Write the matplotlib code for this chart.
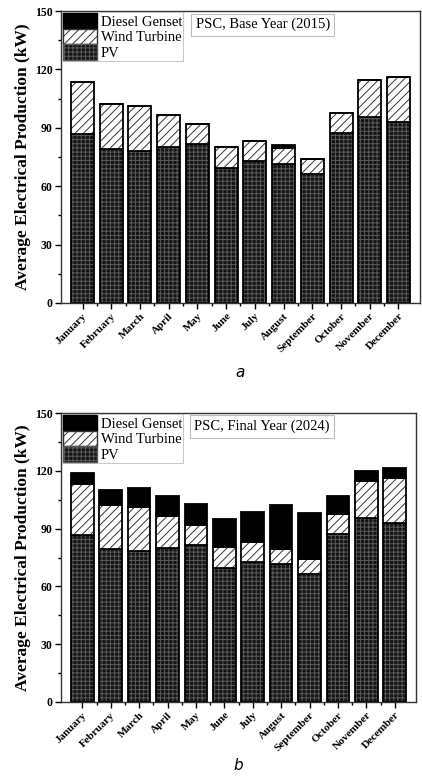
import numpy as np
import matplotlib
matplotlib.use("Agg")
import matplotlib.pyplot as plt
import matplotlib.patches as mpatches
from matplotlib.ticker import MultipleLocator

plt.rcParams['font.family'] = 'Liberation Serif'
plt.rcParams['hatch.linewidth'] = 0.7

months = ['January', 'February', 'March', 'April', 'May', 'June', 'July',
          'August', 'September', 'October', 'November', 'December']

# average production per source (kW)
pv = [86.8, 79.3, 78.2, 80.1, 81.7, 69.5, 72.7, 71.5, 66.3, 87.1, 95.3, 92.8]
wind = [26.5, 23.1, 22.8, 16.3, 10.0, 10.8, 10.3, 8.1, 7.7, 10.5, 19.4, 23.3]
diesel_2015 = [0, 0, 0, 0, 0, 0, 0, 1.7, 0, 0, 0, 0]
diesel_2024 = [5.3, 7.6, 10.0, 10.6, 11.0, 14.7, 15.7, 22.7, 24.0, 9.3, 5.2, 5.6]

panels = [
    ('PSC, Base Year (2015)', diesel_2015, 'a'),
    ('PSC, Final Year (2024)', diesel_2024, 'b'),
]

fig = plt.figure(figsize=(4.22, 7.76), dpi=100)
W, H = 422, 776
# axes boxes in pixels: left, top, width, height, caption y
boxes = [(61, 11, 359, 292, 372), (61, 413, 355, 289, 765)]

x = np.arange(len(months))
w = 0.8
pv_face, pv_grid = '#141414', '#5a5a5a'

for (title, diesel, tag), (l, t, bw, bh, cy) in zip(panels, boxes):
    ax = fig.add_axes([l / W, 1 - (t + bh) / H, bw / W, bh / H])
    pv_a = np.array(pv)
    wind_a = np.array(wind)
    dsl = np.array(diesel)

    # PV: dark fill with a fine grey grid
    ax.bar(x, pv_a, w, color=pv_face, edgecolor=pv_grid, hatch='++++', lw=0)
    ax.bar(x, pv_a, w, fill=False, edgecolor='black', lw=1.3)
    # wind: diagonal hatch on white
    ax.bar(x, wind_a, w, bottom=pv_a, color='white', edgecolor='#333333', hatch='////', lw=0)
    ax.bar(x, wind_a, w, bottom=pv_a, fill=False, edgecolor='black', lw=1.3)
    # diesel: solid black
    ax.bar(x, dsl, w, bottom=pv_a + wind_a, color='black', edgecolor='black', lw=1.3)

    ax.set_xlim(-0.75, 11.75)
    ax.set_ylim(0, 150)
    ax.yaxis.set_major_locator(MultipleLocator(30))
    ax.yaxis.set_minor_locator(MultipleLocator(15))
    ax.set_xticks(x)
    ax.set_xticks(x[:-1] + 0.5, minor=True)
    ax.set_xticklabels(months, rotation=45, ha='right', rotation_mode='anchor',
                       fontsize=8, fontweight='bold')
    for lab in ax.get_yticklabels():
        lab.set_fontsize(8.5)
        lab.set_fontweight('bold')
    ax.tick_params(which='major', direction='out', length=4, width=1)
    ax.tick_params(which='minor', direction='out', length=2, width=1)
    ax.tick_params(axis='x', pad=2)
    ax.tick_params(axis='y', pad=2)
    for s in ax.spines.values():
        s.set_linewidth(1.0)
        s.set_color('#333333')

    ax.set_ylabel('Average Electrical Production (kW)', fontsize=12.5,
                  fontweight='bold', labelpad=3)

    handles = [
        mpatches.Patch(facecolor='black', edgecolor='black', label='Diesel Genset'),
        mpatches.Patch(facecolor='white', edgecolor='#333333', hatch='////', label='Wind Turbine'),
        mpatches.Patch(facecolor=pv_face, edgecolor=pv_grid, hatch='++++', label='PV'),
    ]
    leg = ax.legend(handles=handles, loc='upper left', prop={'size': 10.5},
                    frameon=True, fancybox=False, borderpad=0.05,
                    labelspacing=0.0, handlelength=2.3, handleheight=1.25,
                    handletextpad=0.3, borderaxespad=0.1, edgecolor='#bbbbbb')
    leg.get_frame().set_linewidth(0.8)

    ax.text(0.375, 0.953, title, transform=ax.transAxes, fontsize=10.5,
            va='center', ha='left',
            bbox=dict(boxstyle='square,pad=0.3', facecolor='white',
                      edgecolor='#bbbbbb', lw=0.8))

    fig.text((l + bw / 2) / W, 1 - cy / H, tag, fontsize=11, style='italic',
             family='DejaVu Sans', ha='center', va='center')

fig.savefig('out.png', dpi=100)
